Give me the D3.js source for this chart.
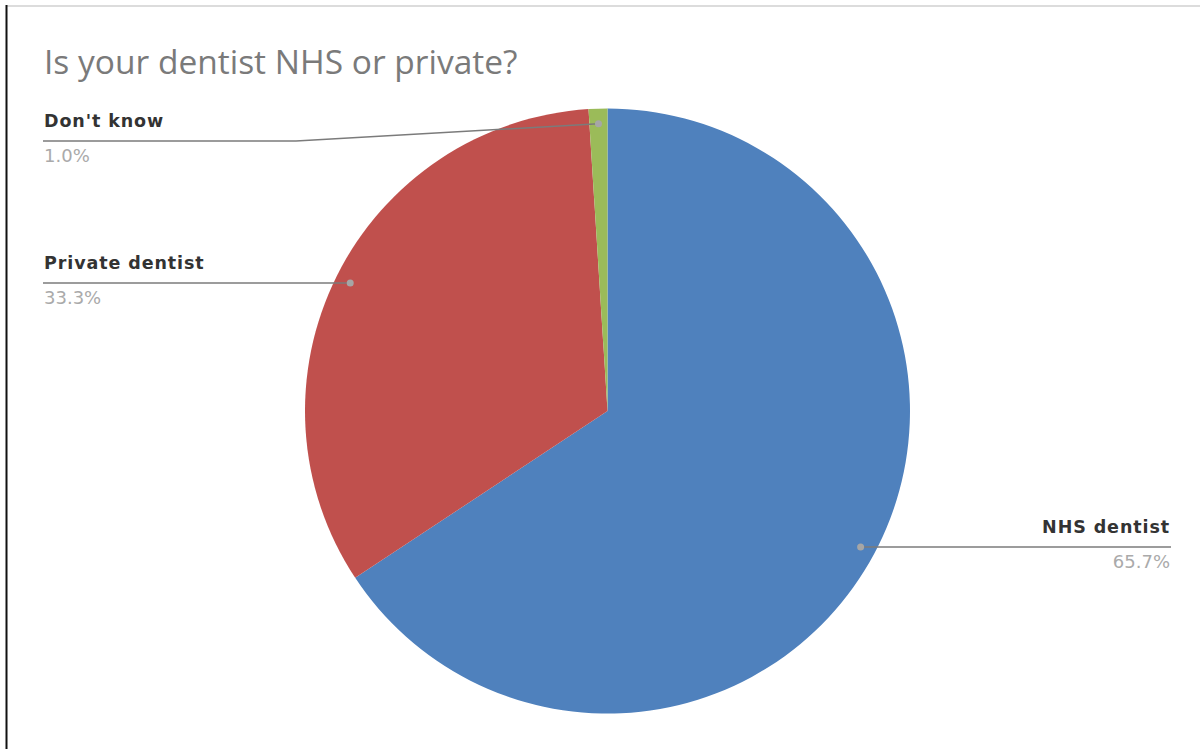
<!DOCTYPE html>
<html><head><meta charset="utf-8">
<script src="https://cdn.jsdelivr.net/npm/d3@7"></script>
<style>body{margin:0;background:#fff;} svg{display:block;}</style>
</head><body>
<svg id="c" width="1201" height="749"></svg>
<script>
const title = "Is your dentist NHS or private?";
const categories = ["NHS dentist", "Private dentist", "Don't know"];
const values = [65.7, 33.3, 1.0];
const valueLabels = ["65.7%", "33.3%", "1.0%"];
const colors = ["#4F81BD", "#C0504D", "#9BBB59"];

const svg = d3.select("#c");
// frame
svg.append("line").attr("x1",6).attr("x2",1200).attr("y1",6).attr("y2",6).attr("stroke","#d0d0d0").attr("stroke-width",1.5);
svg.append("line").attr("x1",6.5).attr("x2",6.5).attr("y1",5).attr("y2",749).attr("stroke","#111").attr("stroke-width",2);

svg.append("text").attr("x",44).attr("y",74).text(title)
  .attr("font-family","Open Sans").attr("font-size",33.5).attr("fill","#7a7a7a");

const cx = 607.5, cy = 411, r = 302.5;
const pie = d3.pie().sort(null).value(d=>d)(values);
const arc = d3.arc().innerRadius(0).outerRadius(r);
const g = svg.append("g").attr("transform",`translate(${cx},${cy})`);
g.selectAll("path").data(pie).join("path").attr("d",arc).attr("fill",(d,i)=>colors[i]);

function pointAt(d, rad){ const a=(d.startAngle+d.endAngle)/2; return [cx+rad*Math.sin(a), cy-rad*Math.cos(a)]; }

const labelSpec = [
  {side:"right", labelX:1170},
  {side:"left", labelX:45},
  {side:"left", labelX:45, lineY:141}
];
pie.forEach((d,i)=>{
  const s = labelSpec[i];
  const p = pointAt(d, r*0.95);
  const lineY = s.lineY !== undefined ? s.lineY : p[1];
  const pts = [];
  if (s.side==="right") { pts.push(p, [s.labelX+1, lineY]); }
  else if (i===2) { pts.push(p, [296, lineY], [s.labelX-2, lineY]); }
  else { pts.push(p, [s.labelX-2, lineY]); }
  svg.append("path").attr("d", d3.line()(pts)).attr("fill","none").attr("stroke","#7b7b7b").attr("stroke-width",1.5);
  svg.append("circle").attr("cx",p[0]).attr("cy",p[1]).attr("r",3.5).attr("fill","#a6a6a6");
  const anchor = s.side==="right" ? "end" : "start";
  svg.append("text").attr("x",s.side==="right"?s.labelX:s.labelX-1).attr("y",lineY-14).attr("text-anchor",anchor)
    .attr("font-family","DejaVu Sans").attr("font-weight","bold").attr("font-size",17.5)
    .attr("letter-spacing",0.9).attr("fill","#333").text(categories[i]);
  svg.append("text").attr("x",s.side==="right"?s.labelX:s.labelX-1).attr("y",lineY+21).attr("text-anchor",anchor)
    .attr("font-family","DejaVu Sans").attr("font-size",18).attr("fill","#aaaaaa").text(valueLabels[i]);
});
</script>
</body></html>
